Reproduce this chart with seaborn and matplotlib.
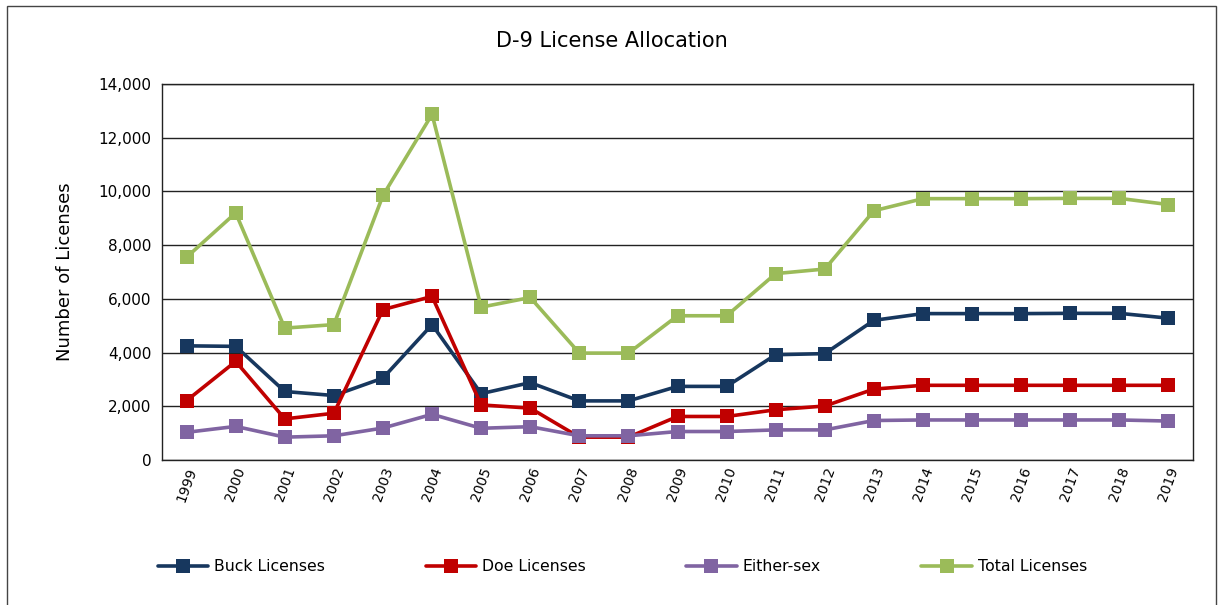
import pandas as pd
import matplotlib.pyplot as plt
import seaborn as sns
from matplotlib.patches import Rectangle
from matplotlib.ticker import FuncFormatter, MultipleLocator

years = [str(y) for y in range(1999, 2020)]

buck = [4250, 4230, 2550, 2400, 3050, 5040, 2470, 2880, 2200, 2200, 2740,
        2740, 3920, 3960, 5200, 5450, 5450, 5450, 5460, 5460, 5280]
doe = [2210, 3670, 1530, 1740, 5600, 6090, 2050, 1930, 850, 850, 1620,
       1620, 1870, 2010, 2640, 2780, 2780, 2780, 2780, 2780, 2780]
either = [1030, 1250, 850, 900, 1190, 1700, 1180, 1240, 900, 900, 1060,
          1060, 1120, 1120, 1470, 1490, 1490, 1490, 1490, 1490, 1450]
total = [7550, 9200, 4910, 5040, 9850, 12870, 5690, 6050, 3980, 3980, 5370,
         5370, 6940, 7110, 9280, 9730, 9730, 9730, 9740, 9740, 9510]

series_names = ["Buck Licenses", "Doe Licenses", "Either-sex", "Total Licenses"]
colors = ["#17375E", "#C00000", "#8064A2", "#9BBB59"]

# long form for seaborn
df = pd.DataFrame({
    "year": years * 4,
    "x": list(range(len(years))) * 4,
    "value": buck + doe + either + total,
    "series": sum([[n] * len(years) for n in series_names], []),
})

sns.set_style("white")
plt.rcParams["font.family"] = ["DejaVu Sans"]
plt.rcParams["text.color"] = "black"
plt.rcParams["axes.labelcolor"] = "black"
plt.rcParams["xtick.color"] = "black"
plt.rcParams["ytick.color"] = "black"

fig = plt.figure(figsize=(12.23, 6.05), dpi=100)
ax = fig.add_axes([0.1325, 0.2397, 0.843, 0.6215])

sns.lineplot(data=df, x="x", y="value", hue="series", hue_order=series_names,
             palette=colors, marker="s", markersize=10, markeredgewidth=0,
             linewidth=2.6, ax=ax, legend=True)

ax.set_xlim(-0.5, len(years) - 0.5)
ax.set_ylim(0, 14000)
ax.yaxis.set_major_locator(MultipleLocator(2000))
ax.yaxis.set_major_formatter(FuncFormatter(lambda v, p: f"{int(v):,}"))
ax.grid(axis="y", color="#222222", linewidth=1)
ax.set_axisbelow(True)

ax.set_xticks(range(len(years)))
ax.set_xticklabels(years, rotation=70, fontsize=10)
ax.set_xticks([i - 0.5 for i in range(len(years) + 1)], minor=True)
ax.tick_params(axis="x", which="major", length=0, pad=4)
ax.tick_params(axis="x", which="minor", length=5, width=1, color="#333333")
ax.tick_params(axis="y", length=4, width=1, color="#333333", labelsize=11)
ax.set_xlabel("")
ax.set_ylabel("Number of Licenses", fontsize=13, labelpad=18)

for s in ax.spines.values():
    s.set_color("#222222")
    s.set_linewidth(1)

fig.text(0.5, 0.933, "D-9 License Allocation", fontsize=15, ha="center", va="center")

handles, labels = ax.get_legend_handles_labels()
ax.legend_.remove()
fig.legend(handles, labels, loc="center", bbox_to_anchor=(0.509, 0.063), ncol=4,
           frameon=False, fontsize=11.3, handlelength=3.2, columnspacing=6.4,
           handletextpad=0.4)

fig.patches.append(Rectangle((0.006, -0.01), 0.988, 1.0, transform=fig.transFigure,
                             fill=False, edgecolor="#444444", linewidth=1))

fig.savefig("out.png", dpi=100)
